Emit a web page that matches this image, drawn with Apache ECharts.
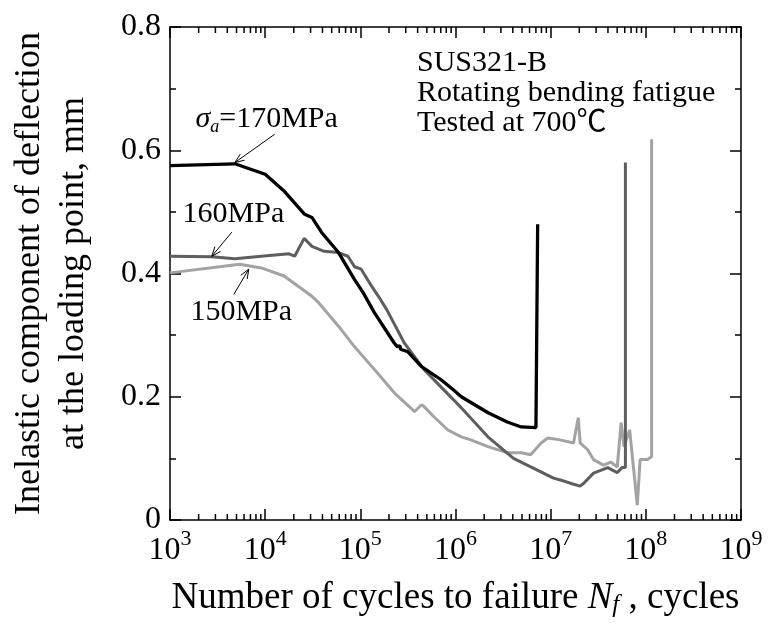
<!DOCTYPE html>
<html>
<head>
<meta charset="utf-8">
<script src="https://cdn.jsdelivr.net/npm/echarts@6/dist/echarts.min.js"></script>
<style>html,body{margin:0;padding:0;background:#fff}#c{width:776px;height:625px}</style>
</head>
<body>
<div id="c"></div>
<script>
// ---- data (cycles N, inelastic deflection mm) ----
const n170 = [1000, 4800, 10000, 16000, 26000, 31000, 39000, 59000, 87000, 107000, 140000, 225000, 245000, 260000, 265000, 316000, 440000, 700000, 955000, 1150000, 2200000, 3500000, 4900000, 7000000, 7300000, 7300000];
const d170 = [0.575, 0.578, 0.561, 0.533, 0.496, 0.491, 0.467, 0.434, 0.390, 0.369, 0.337, 0.288, 0.281, 0.283, 0.277, 0.273, 0.249, 0.228, 0.211, 0.200, 0.174, 0.159, 0.151, 0.150, 0.150, 0.480];

const n160 = [1000, 2750, 4800, 9100, 17800, 20400, 25700, 31000, 41700, 59000, 74000, 87000, 102000, 132000, 155000, 190000, 288000, 468000, 955000, 1150000, 2190000, 4070000, 7240000, 10700000, 12600000, 17400000, 20400000, 22400000, 28200000, 39800000, 50100000, 56200000, 61000000, 61000000];
const d160 = [0.428, 0.427, 0.424, 0.428, 0.432, 0.428, 0.457, 0.444, 0.436, 0.434, 0.428, 0.411, 0.407, 0.379, 0.363, 0.341, 0.288, 0.244, 0.195, 0.182, 0.135, 0.100, 0.081, 0.068, 0.065, 0.058, 0.055, 0.060, 0.076, 0.085, 0.077, 0.085, 0.085, 0.580];

const n150 = [1000, 5400, 9100, 15800, 22400, 31000, 36300, 63000, 87000, 141000, 229000, 372000, 440000, 468000, 589000, 832000, 1150000, 1450000, 2190000, 3550000, 4900000, 6170000, 7940000, 9330000, 12600000, 17400000, 19500000, 20400000, 24500000, 28200000, 35900000, 42700000, 50100000, 55000000, 58900000, 67600000, 74100000, 81300000, 87100000, 104000000, 115000000, 115000000];
const d150 = [0.401, 0.415, 0.409, 0.396, 0.379, 0.363, 0.353, 0.309, 0.281, 0.244, 0.206, 0.176, 0.187, 0.184, 0.168, 0.146, 0.135, 0.130, 0.119, 0.109, 0.109, 0.106, 0.125, 0.133, 0.130, 0.125, 0.166, 0.125, 0.114, 0.098, 0.089, 0.094, 0.086, 0.158, 0.119, 0.146, 0.086, 0.024, 0.098, 0.098, 0.103, 0.618];

const yTicks = [0, 0.2, 0.4, 0.6, 0.8];
const xRange = [1e3, 1e9];
// minor tick positions on the log axis (2..9 × each decade)
const xMinorTicks = [];
[1e3, 1e4, 1e5, 1e6, 1e7, 1e8].forEach(d => { for (let k = 2; k <= 9; k++) xMinorTicks.push(k * d); });

// annotation anchors (data coordinates)
const lab170 = [1830, 0.650];
const lab160 = [1340, 0.496];
const lab150 = [1620, 0.337];
// arrows: [fromN, fromY, toN, toY]  (head at "to")
const arrows = [
  [12600, 0.626, 4800, 0.580],
  [4460, 0.467, 2750, 0.428],
  [4680, 0.366, 6720, 0.407]
];

const FONT = '"Liberation Serif", "Times New Roman", "Noto Sans CJK JP", serif';

function zip(a, b) { return a.map((v, i) => [v, b[i]]); }

const chart = echarts.init(document.getElementById('c'), null, { renderer: 'canvas' });

function label(pos, text, rich) {
  return {
    silent: true,
    data: [{
      coord: pos, symbol: 'rect', symbolSize: 1, itemStyle: { color: 'rgba(0,0,0,0)' },
      label: { show: true, position: 'right', distance: 0, formatter: text, color: '#000', fontFamily: FONT, fontSize: 30, rich: rich || {} }
    }]
  };
}

const commonTick = { show: true, inside: true, lineStyle: { color: '#000', width: 1.5 } };

chart.setOption({
  animation: false,
  backgroundColor: '#fff',
  grid: { left: 168, right: 35, top: 27, bottom: 105, containLabel: false },
  xAxis: [
    {
      type: 'log', logBase: 10, min: xRange[0], max: xRange[1], position: 'bottom',
      axisLine: { show: true, onZero: false, lineStyle: { color: '#000', width: 1.5 } },
      axisTick: Object.assign({}, commonTick, { length: 11 }),
      splitLine: { show: false },
      axisLabel: {
        margin: 8, color: '#000', fontFamily: FONT,
        formatter: v => '{b|10}{s|' + Math.round(Math.log10(v)) + '}',
        rich: {
          b: { fontFamily: FONT, fontSize: 32, lineHeight: 46, color: '#000' },
          s: { fontFamily: FONT, fontSize: 22, lineHeight: 22, verticalAlign: 'top', color: '#000' }
        }
      },
      name: '{n|Number of cycles to failure }{i|N}{f|f}{n| , cycles}',
      nameLocation: 'middle', nameGap: 58,
      nameTextStyle: {
        rich: {
          n: { fontFamily: FONT, fontSize: 37, lineHeight: 40, color: '#000' },
          i: { fontFamily: FONT, fontSize: 37, lineHeight: 40, fontStyle: 'italic', color: '#000' },
          f: { fontFamily: FONT, fontSize: 25, lineHeight: 24, fontStyle: 'italic', verticalAlign: 'bottom', color: '#000' }
        }
      }
    },
    {
      type: 'log', logBase: 10, min: xRange[0], max: xRange[1], position: 'top',
      axisLine: { show: true, onZero: false, lineStyle: { color: '#000', width: 1.5 } },
      axisLabel: { show: false }, splitLine: { show: false },
      axisTick: Object.assign({}, commonTick, { length: 11 })
    }
  ],
  yAxis: [
    {
      type: 'value', min: yTicks[0], max: yTicks[yTicks.length - 1], interval: 0.2, position: 'left',
      axisLine: { show: true, onZero: false, lineStyle: { color: '#000', width: 1.5 } },
      axisTick: Object.assign({}, commonTick, { length: 11 }),
      minorTick: { show: true, splitNumber: 2, length: 6, lineStyle: { color: '#000', width: 1.5 } },
      splitLine: { show: false }, minorSplitLine: { show: false },
      axisLabel: { margin: 9, color: '#000', fontFamily: FONT, fontSize: 32, formatter: v => String(+v.toFixed(1)) },
      name: 'Inelastic component of deflection\nat the loading point, mm',
      nameLocation: 'middle', nameGap: 74,
      nameTextStyle: { fontFamily: FONT, fontSize: 36, lineHeight: 44, color: '#000' }
    },
    {
      type: 'value', min: yTicks[0], max: yTicks[yTicks.length - 1], interval: 0.2, position: 'right',
      axisLine: { show: true, onZero: false, lineStyle: { color: '#000', width: 1.5 } },
      axisTick: Object.assign({}, commonTick, { length: 11 }),
      minorTick: { show: true, splitNumber: 2, length: 6, lineStyle: { color: '#000', width: 1.5 } },
      splitLine: { show: false }, minorSplitLine: { show: false },
      axisLabel: { show: false }
    }
  ],
  graphic: [{
    type: 'text', left: 417, top: 48, silent: true,
    style: { text: 'SUS321-B\nRotating bending fatigue\nTested at 700℃', font: '30px ' + FONT, fill: '#000', lineHeight: 30 }
  }],
  series: [
    {
      // minor ticks of the log axes (bottom and top, inward)
      name: 'minorTicks', type: 'custom', silent: true, clip: false, z: 10,
      data: xMinorTicks.map(v => [v, yTicks[0]]),
      renderItem: (params, api) => {
        const b = api.coord([api.value(0), yTicks[0]]);
        const t = api.coord([api.value(0), yTicks[yTicks.length - 1]]);
        return {
          type: 'group', children: [
            { type: 'rect', shape: { x: b[0] - 0.75, y: b[1] - 6, width: 1.5, height: 6 }, style: { fill: '#000' } },
            { type: 'rect', shape: { x: t[0] - 0.75, y: t[1], width: 1.5, height: 6 }, style: { fill: '#000' } }
          ]
        };
      }
    },
    {
      // annotation arrows
      name: 'arrows', type: 'custom', silent: true, clip: false, z: 6,
      data: arrows,
      renderItem: (params, api) => {
        const p1 = api.coord([api.value(0), api.value(1)]);
        const p2 = api.coord([api.value(2), api.value(3)]);
        const ang = Math.atan2(p2[1] - p1[1], p2[0] - p1[0]);
        const L = 10, w = 0.38;
        const h1 = [p2[0] - L * Math.cos(ang - w), p2[1] - L * Math.sin(ang - w)];
        const h2 = [p2[0] - L * Math.cos(ang + w), p2[1] - L * Math.sin(ang + w)];
        return {
          type: 'group', children: [
            { type: 'line', shape: { x1: p1[0], y1: p1[1], x2: p2[0], y2: p2[1] }, style: { stroke: '#000', lineWidth: 1 } },
            { type: 'polyline', shape: { points: [h1, p2, h2] }, style: { stroke: '#000', lineWidth: 1, fill: null } }
          ]
        };
      }
    },
    {
      name: '150MPa', type: 'line', data: zip(n150, d150), showSymbol: false, symbol: 'none',
      lineStyle: { color: '#a3a3a3', width: 3 }, z: 2,
      markPoint: label(lab150, '150MPa')
    },
    {
      name: '160MPa', type: 'line', data: zip(n160, d160), showSymbol: false, symbol: 'none',
      lineStyle: { color: '#5e5e5e', width: 3 }, z: 3,
      markPoint: label(lab160, '160MPa')
    },
    {
      name: '170MPa', type: 'line', data: zip(n170, d170), showSymbol: false, symbol: 'none',
      lineStyle: { color: '#000', width: 3.3 }, z: 4,
      markPoint: label(lab170, '{g|σ}{a|a}{t|=170MPa}', {
        g: { fontFamily: FONT, fontSize: 30, lineHeight: 34, fontStyle: 'italic', color: '#000' },
        a: { fontFamily: FONT, fontSize: 18, lineHeight: 18, fontStyle: 'italic', verticalAlign: 'bottom', color: '#000' },
        t: { fontFamily: FONT, fontSize: 30, lineHeight: 34, color: '#000' }
      })
    }
  ]
});
</script>
</body>
</html>
